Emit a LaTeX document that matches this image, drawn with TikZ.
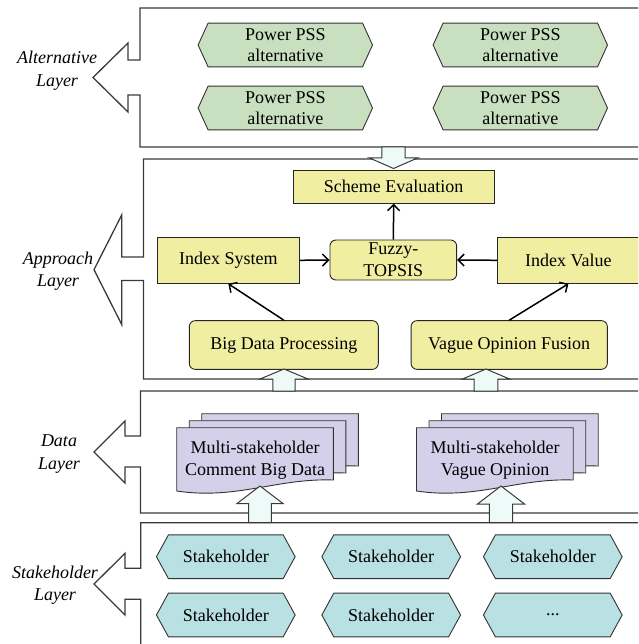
\documentclass[tikz,border=0pt]{standalone}
\usepackage{fontspec}
\setmainfont{Liberation Serif}
\usetikzlibrary{arrows.meta,backgrounds}
\definecolor{yel}{HTML}{F0EEA0}
\definecolor{grn}{HTML}{C8E0C0}
\definecolor{cyn}{HTML}{B9E0E2}
\definecolor{lav}{HTML}{D4D0EA}
\definecolor{afill}{HTML}{EEFAF8}
\definecolor{lgray}{HTML}{3A3A3A}
\newcommand\hexshape[3]{%
  \begin{pgfonlayer}{background}
  \draw[hexdraw, fill=#3] ([xshift=#2pt]#1.north west) -- ([xshift=-#2pt]#1.north east) -- (#1.east)
    -- ([xshift=-#2pt]#1.south east) -- ([xshift=#2pt]#1.south west) -- (#1.west) -- cycle;
  \end{pgfonlayer}}
\newcommand\docpage[2]{%
  \draw[docdraw, shift={(#1,#2)}] (0,0) -- (156.7,0) -- (156.7,52.3)
    .. controls (100,50.3) and (60,72.3) .. (0,63.3) -- cycle;}
\begin{document}
\begin{tikzpicture}[x=1pt,y=-1pt,
  layerline/.style={draw=lgray, line width=1.3pt},
  ybox/.style={draw=black!85, fill=yel, line width=0.9pt, inner sep=0pt, align=center,
    font=\fontsize{18}{21.7}\selectfont},
  yround/.style={ybox, rounded corners=6pt},
  flow/.style={-{Straight Barb[length=6pt,width=12pt]}, line width=1.5pt},
  hexlabel/.style={inner sep=0pt, align=center, minimum height=43.4pt,
    font=\fontsize{18}{21.7}\selectfont},
  hexdraw/.style={draw=black!80, line width=0.9pt},
  docdraw/.style={draw=black!80, fill=lav, line width=0.9pt},
  doctext/.style={inner sep=0pt, align=center, font=\fontsize{18}{21.7}\selectfont},
  blockarrow/.style={draw=lgray, fill=afill, line width=1pt},
  layerlabel/.style={inner sep=0pt, align=center, font=\fontsize{18}{22.5}\selectfont\itshape}]
\useasboundingbox (0,0) rectangle (638,644);
\clip (0,0) rectangle (638,644);

% layer outlines
\draw[layerline] (650,8) -- (140,8) -- (140,60) -- (128,60) -- (128,43) -- (93,77.5)
  -- (128,112) -- (128,95) -- (140,95) -- (140,147) -- (650,147);
\draw[layerline] (650,159) -- (143.5,159) -- (143.5,257) -- (121.7,257) -- (121.7,215) -- (94,269.7)
  -- (121.7,324.5) -- (121.7,280.5) -- (143.5,280.5) -- (143.5,379) -- (650,379);
\draw[layerline] (650,391) -- (140.5,391) -- (140.5,436) -- (125,436) -- (125,421) -- (94,452)
  -- (125,483) -- (125,467) -- (140.5,467) -- (140.5,513) -- (650,513);
\draw[layerline] (650,522.7) -- (140.7,522.7) -- (140.7,568.3) -- (125,568.3) -- (125,553.3) -- (94,584)
  -- (125,615) -- (125,599.3) -- (140.7,599.3) -- (140.7,660);

% layer labels
\node[layerlabel] (lalt) at (57,70.5) {Alternative\\Layer};
\node[layerlabel] (lapp) at (58,271) {Approach\\Layer};
\node[layerlabel] (ldat) at (59,454) {Data\\Layer};
\node[layerlabel] (lsta) at (55,585) {Stakeholder\\Layer};

% alternative layer
\node[hexlabel, minimum width=174pt] (alt1) at (285.3,45) {Power PSS\\alternative};
\node[hexlabel, minimum width=174pt] (alt2) at (520.3,45) {Power PSS\\alternative};
\node[hexlabel, minimum width=174pt] (alt3) at (285.3,108) {Power PSS\\alternative};
\node[hexlabel, minimum width=174pt] (alt4) at (520.3,108) {Power PSS\\alternative};
\hexshape{alt1}{10}{grn}\hexshape{alt2}{10}{grn}\hexshape{alt3}{10}{grn}\hexshape{alt4}{10}{grn}

% approach layer
\node[ybox, minimum width=200.7pt, minimum height=33pt] (scheme) at (393.7,186.7) {Scheme Evaluation};
\node[ybox, minimum width=142pt, minimum height=46pt] (isys) at (228.3,260.3) {Index System};
\node[yround, minimum width=126.7pt, minimum height=40pt] (fuzzy) at (393.3,260) {Fuzzy-\\TOPSIS};
\node[ybox, minimum width=141.4pt, minimum height=46pt] (ival) at (568.4,260.3) {Index Value};
\node[yround, minimum width=189pt, minimum height=48.7pt] (bigdata) at (283.8,345) {Big Data Processing};
\node[yround, minimum width=196.3pt, minimum height=48.7pt] (vague) at (509.2,345) {Vague Opinion Fusion};
\draw[flow] (isys.east) -- (fuzzy.west);
\draw[flow] (ival.west) -- (fuzzy.east);
\draw[flow] (fuzzy.north) -- (scheme.south);
\draw[flow] (bigdata.north) -- (isys.south);
\draw[flow] (vague.north) -- (ival.south);

% data layer
\begin{pgfonlayer}{background}
\docpage{201.7}{413.7}\docpage{189.2}{420.7}\docpage{176.7}{427.7}
\docpage{441.5}{413.7}\docpage{429}{420.7}\docpage{416.5}{427.7}
\end{pgfonlayer}
\node[doctext] (docA) at (255,460) {Multi-stakeholder\\Comment Big Data};
\node[doctext] (docB) at (495,460) {Multi-stakeholder\\Vague Opinion};

% stakeholder layer
\node[hexlabel, minimum width=138.3pt] (s1) at (225.8,556.7) {Stakeholder};
\node[hexlabel, minimum width=138.3pt] (s2) at (391.2,556.7) {Stakeholder};
\node[hexlabel, minimum width=138.3pt] (s3) at (552.8,556.7) {Stakeholder};
\node[hexlabel, minimum width=138.3pt] (s4) at (225.8,615) {Stakeholder};
\node[hexlabel, minimum width=138.3pt] (s5) at (391.2,615) {Stakeholder};
\node[hexlabel, minimum width=138.3pt] (s6) at (552.8,615) {...};
\hexshape{s1}{12}{cyn}\hexshape{s2}{12}{cyn}\hexshape{s3}{12}{cyn}
\hexshape{s4}{12}{cyn}\hexshape{s5}{12}{cyn}\hexshape{s6}{12}{cyn}

% block arrows between layers
\draw[blockarrow, shift={(393.5,0)}] (-11.7,147) -- (-11.7,158) -- (-24,158) -- (0,168.5)
  -- (24,158) -- (11.7,158) -- (11.7,147) -- cycle;
\draw[blockarrow, shift={(284,0)}] (-11.2,391) -- (-11.2,379) -- (-24,379) -- (0,369)
  -- (24,379) -- (11.2,379) -- (11.2,391) -- cycle;
\draw[blockarrow, shift={(486,0)}] (-11.8,391) -- (-11.8,379) -- (-23.5,379) -- (0,369)
  -- (23.5,379) -- (11.8,379) -- (11.8,391) -- cycle;
\draw[blockarrow, shift={(260,0)}] (-11.3,522.7) -- (-11.3,503.5) -- (-23,503.5) -- (0,486)
  -- (23,503.5) -- (11.3,503.5) -- (11.3,522.7) -- cycle;
\draw[blockarrow, shift={(501,0)}] (-11.7,522.7) -- (-11.7,504) -- (-23.5,504) -- (0,486)
  -- (23.5,504) -- (11.7,504) -- (11.7,522.7) -- cycle;
\end{tikzpicture}
\end{document}
